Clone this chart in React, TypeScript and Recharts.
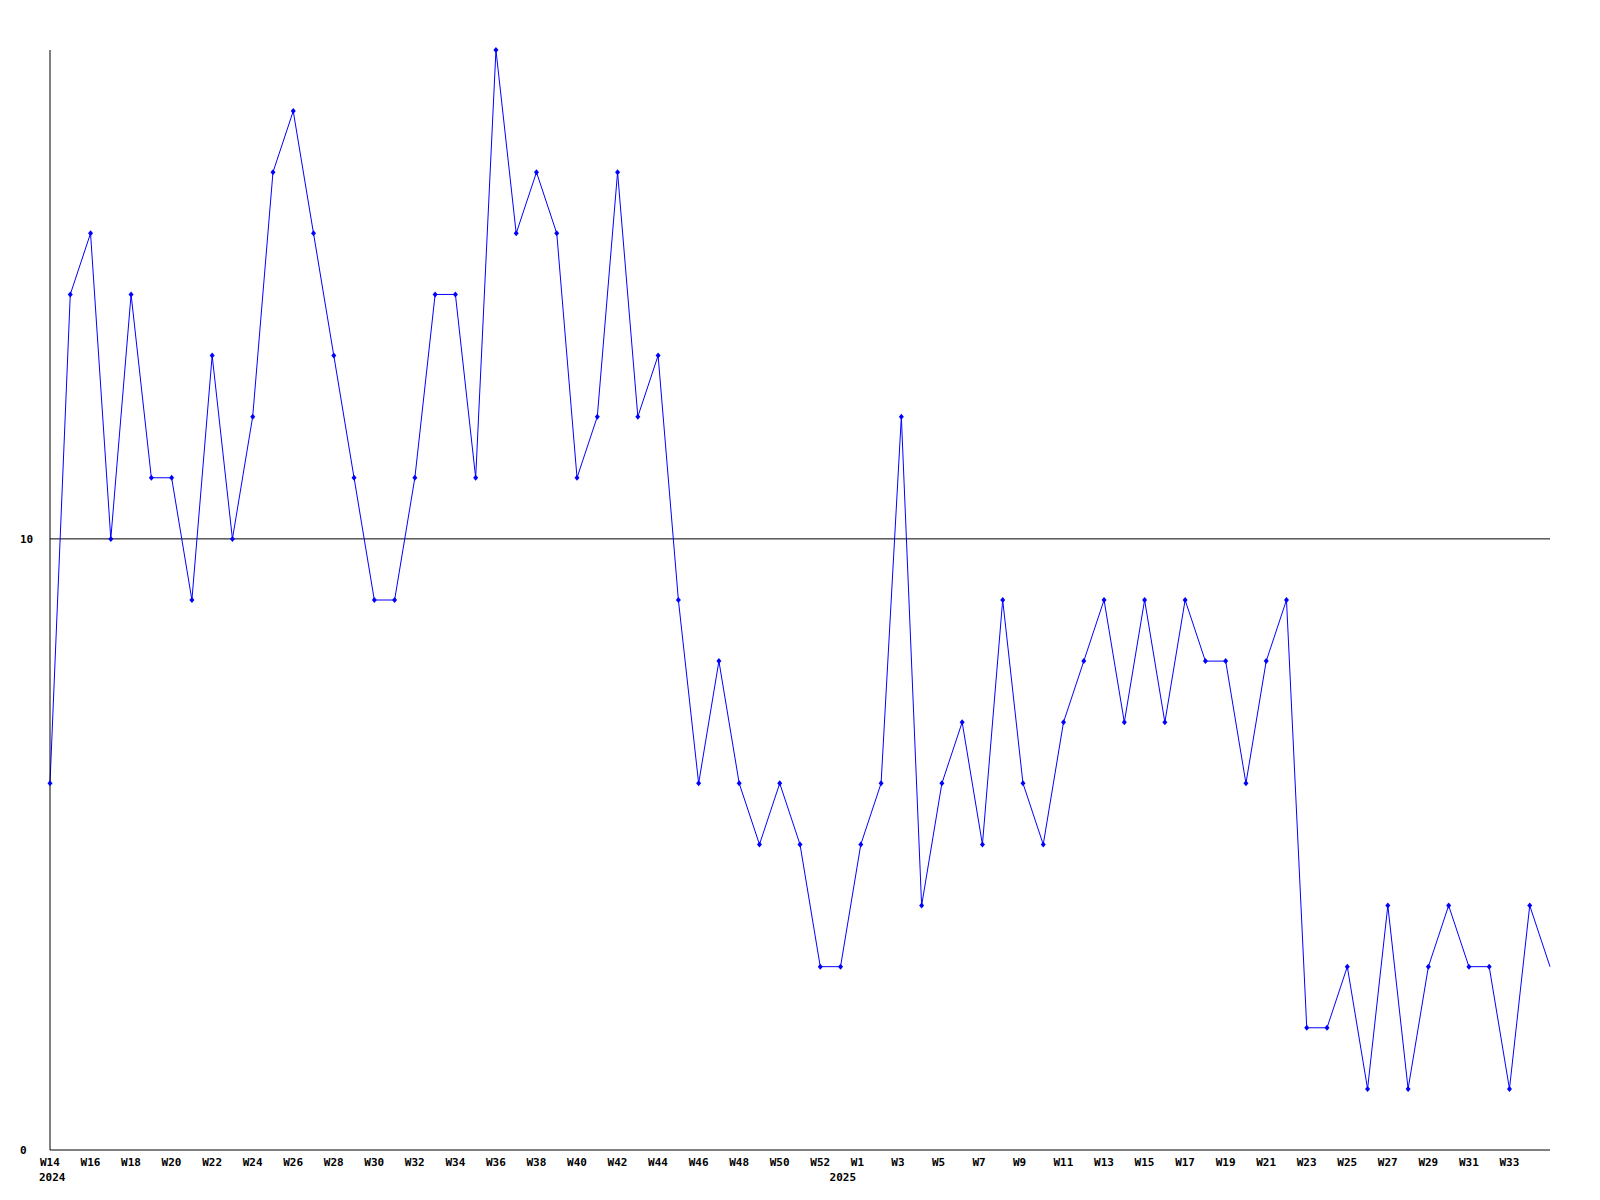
import { Line, LineChart, ReferenceLine, XAxis, YAxis } from "recharts";

const weeks = [
  "2024-W14", "2024-W15", "2024-W16", "2024-W17", "2024-W18", "2024-W19", "2024-W20", "2024-W21",
  "2024-W22", "2024-W23", "2024-W24", "2024-W25", "2024-W26", "2024-W27", "2024-W28", "2024-W29",
  "2024-W30", "2024-W31", "2024-W32", "2024-W33", "2024-W34", "2024-W35", "2024-W36", "2024-W37",
  "2024-W38", "2024-W39", "2024-W40", "2024-W41", "2024-W42", "2024-W43", "2024-W44", "2024-W45",
  "2024-W46", "2024-W47", "2024-W48", "2024-W49", "2024-W50", "2024-W51", "2024-W52", "2024-W53",
  "2025-W1", "2025-W2", "2025-W3", "2025-W4", "2025-W5", "2025-W6", "2025-W7", "2025-W8",
  "2025-W9", "2025-W10", "2025-W11", "2025-W12", "2025-W13", "2025-W14", "2025-W15", "2025-W16",
  "2025-W17", "2025-W18", "2025-W19", "2025-W20", "2025-W21", "2025-W22", "2025-W23", "2025-W24",
  "2025-W25", "2025-W26", "2025-W27", "2025-W28", "2025-W29", "2025-W30", "2025-W31", "2025-W32",
  "2025-W33", "2025-W34", "2025-W35",
];

const counts = [
  6, 14, 15, 10, 14, 11, 11, 9, 13, 10, 12, 16, 17, 15, 13, 11, 9, 9, 11, 14,
  14, 11, 18, 15, 16, 15, 11, 12, 16, 12, 13, 9, 6, 8, 6, 5, 6, 5, 3, 3,
  5, 6, 12, 4, 6, 7, 5, 9, 6, 5, 7, 8, 9, 7, 9, 7, 9, 8, 8, 6,
  8, 9, 2, 2, 3, 1, 4, 1, 3, 4, 3, 3, 1, 4, 3,
];

// weeks that get a label under the axis
const labeledWeeks = [
  "2024-W14", "2024-W16", "2024-W18", "2024-W20", "2024-W22", "2024-W24", "2024-W26", "2024-W28",
  "2024-W30", "2024-W32", "2024-W34", "2024-W36", "2024-W38", "2024-W40", "2024-W42", "2024-W44",
  "2024-W46", "2024-W48", "2024-W50", "2024-W52",
  "2025-W1", "2025-W3", "2025-W5", "2025-W7", "2025-W9", "2025-W11", "2025-W13", "2025-W15",
  "2025-W17", "2025-W19", "2025-W21", "2025-W23", "2025-W25", "2025-W27", "2025-W29", "2025-W31",
  "2025-W33",
];

const yearWeeks = ["2024-W14", "2024-W53"];
const yearLabels = ["2024", "2025"];

const yTicks = [0, 10];

const data = weeks.map((week, i) => ({ week, count: counts[i] }));

const font = {
  fontFamily: "'DejaVu Sans Mono', monospace",
  fontWeight: "bold" as const,
  fontSize: 11,
  fill: "#000",
};

function WeekTick(props: any) {
  const { x, y, payload } = props;
  const key: string = payload.value;
  const label = labeledWeeks.includes(key) ? key.split("-")[1] : null;
  const yi = yearWeeks.indexOf(key);
  return (
    <g>
      {label && (
        <text x={x - 10} y={y} dy={16} textAnchor="start" {...font}>
          {label}
        </text>
      )}
      {yi >= 0 && (
        <text x={x - 11} y={y} dy={31} textAnchor="start" {...font}>
          {yearLabels[yi]}
        </text>
      )}
    </g>
  );
}

function CountTick(props: any) {
  const { y, payload } = props;
  return (
    <text x={12} y={y} dy={4} textAnchor="start" {...font}>
      {payload.value}
    </text>
  );
}

function Marker(props: any) {
  const { cx, cy, index } = props;
  if (index === counts.length - 1 || cx == null) return <g key={index} />;
  return (
    <path
      key={index}
      d={`M${cx},${cy - 3}L${cx + 2.5},${cy}L${cx},${cy + 3}L${cx - 2.5},${cy}Z`}
      fill="#0000ff"
      stroke="none"
    />
  );
}

export default function App() {
  return (
    <LineChart
      width={1584}
      height={1192}
      data={data}
      margin={{ top: 42, right: 42, left: 0, bottom: 0 }}
    >
      <XAxis
        dataKey="week"
        interval={0}
        height={50}
        tickLine={false}
        tickSize={0}
        tickMargin={0}
        axisLine={{ stroke: "#000" }}
        tick={<WeekTick />}
      />
      <YAxis
        domain={[0, 18]}
        ticks={yTicks}
        width={42}
        tickLine={false}
        axisLine={{ stroke: "#000" }}
        tick={<CountTick />}
      />
      <ReferenceLine y={10} stroke="#000" strokeWidth={1} />
      <Line
        dataKey="count"
        type="linear"
        stroke="#0000ff"
        strokeWidth={1}
        dot={<Marker />}
        activeDot={false}
        isAnimationActive={false}
      />
    </LineChart>
  );
}
